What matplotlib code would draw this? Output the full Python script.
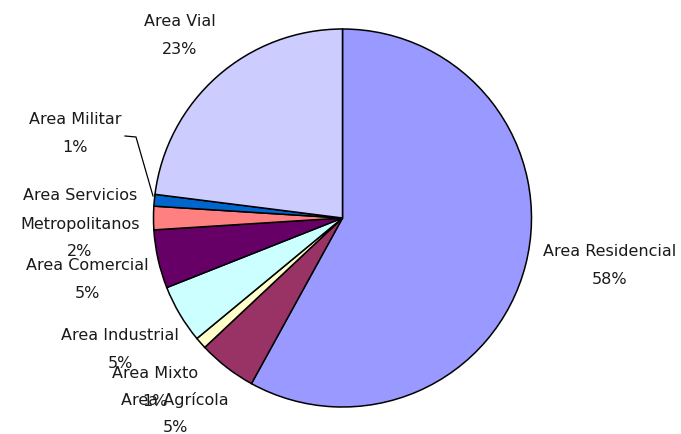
import matplotlib
matplotlib.use("Agg")
from matplotlib import pyplot as plt

# slices, clockwise from 12 o'clock
labels = ["Area Residencial", "Area Agrícola", "Area Mixto", "Area Industrial",
          "Area Comercial", "Area Servicios\nMetropolitanos", "Area Militar",
          "Area Vial"]
shares = [58, 5, 1, 5, 5, 2, 1, 23]
colors = ["#9999FF", "#993366", "#FFFFCC", "#CCFFFF", "#660066", "#FF8080",
          "#0066CC", "#CCCCFF"]

# label anchor: centre of first text line (pixels from top-left of image)
label_pos = [(610, 251), (175, 400), (155, 373), (120, 336),
             (87, 266), (80, 196), (75, 120), (180, 21)]
line_step = 28

W, H = 681, 434
fig = plt.figure(figsize=(W / 100, H / 100), dpi=100)
ax = fig.add_axes([0, 0, 1, 1])

cx, cy, r = 342.5, H - 218, 189
ax.pie(shares, colors=colors, startangle=90, counterclock=False,
       center=(cx, cy), radius=r, frame=True,
       wedgeprops=dict(edgecolor="black", linewidth=1.1))
ax.set_xlim(0, W)
ax.set_ylim(0, H)
ax.set_aspect("equal")
ax.axis("off")

for lab, val, (x, y) in zip(labels, shares, label_pos):
    lines = lab.split("\n") + [f"{val}%"]
    for i, line in enumerate(lines):
        ax.text(x, H - (y + i * line_step), line, ha="center", va="center",
                fontsize=11.5, color="#1a1a1a", family="DejaVu Sans")

# leader line for the thin Militar slice
ax.plot([125, 136, 153], [H - 136, H - 137, H - 196], color="black", lw=0.9)

fig.savefig("out.png", dpi=100)
